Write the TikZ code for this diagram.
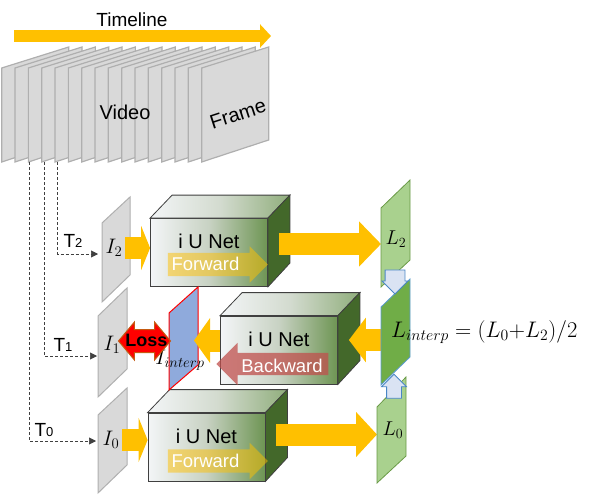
\RequirePackage{fix-cm}
\documentclass[tikz,border=0pt]{standalone}
\usepackage[no-math]{fontspec}
\setsansfont{Liberation Sans}
\usepackage{tikz}
\usetikzlibrary{arrows.meta,shapes.arrows,calc,positioning}
\definecolor{ylw}{RGB}{255,192,0}
\definecolor{framegray}{RGB}{217,217,217}
\definecolor{frameline}{RGB}{175,175,175}
\definecolor{leafgreen}{RGB}{169,209,142}
\definecolor{leafline}{RGB}{106,154,71}
\definecolor{interpgreen}{RGB}{112,173,71}
\definecolor{interpblue}{RGB}{91,155,213}
\definecolor{predblue}{RGB}{143,170,220}
\definecolor{netgreen}{RGB}{84,130,53}
\definecolor{netlight}{RGB}{243,245,247}
\definecolor{netmid}{RGB}{200,210,195}
\definecolor{netline}{RGB}{64,64,64}
\definecolor{bwdred}{RGB}{192,80,77}
\definecolor{lossline}{RGB}{197,90,17}
\definecolor{hopblue}{RGB}{218,227,243}
\definecolor{hopline}{RGB}{74,134,197}

\begin{document}
\begin{tikzpicture}[
        x=1pt, y=-1pt,
        % gray sheets for video frames and inputs
        frame/.style={fill=framegray, draw=frameline, line width=1.2pt},
        plane/.style={fill=framegray, draw=frameline, line width=1pt},
        leaf/.style={fill=leafgreen, draw=leafline, line width=0.8pt},
        netface/.style={rectangle, draw=netline, line width=0.8pt, inner sep=0pt,
            minimum width=117pt, minimum height=68pt,
            left color=netlight, right color=netgreen!85!white, middle color=netmid},
        nettop/.style={draw=netline, line width=0.8pt,
            left color=netlight, right color=netgreen!65!white, middle color=netmid!80!white},
        netside/.style={draw=netline, line width=0.8pt, fill=netgreen!80!black},
        nettext/.style={font=\sffamily\fontsize{20}{24}\selectfont, inner sep=0pt},
        flow/.style={single arrow, single arrow head extend=#1, inner xsep=0pt,
            fill opacity=0.5, draw=none},
        flowtext/.style={font=\sffamily\fontsize{18.5}{22}\selectfont, text=white, inner sep=0pt},
        fatarrow/.style={draw=ylw, line width=22pt, -{Triangle[length=#1,width=44pt]}},
        fatarrow/.default=12pt,
        tline/.style={draw=netline, line width=0.6pt, dash pattern=on 3pt off 2pt,
            -{Triangle[length=7pt,width=7pt]}},
        tlabel/.style={font=\sffamily\fontsize{19}{22}\selectfont, inner sep=0pt},
        mathlabel/.style={font=\fontsize{21}{25}\selectfont, inner sep=0pt},
        hop/.style={single arrow, single arrow head extend=#1, fill=hopblue, draw=hopline,
            line width=0.8pt, inner xsep=0pt, minimum height=24pt}
    ]
        \useasboundingbox (0,0) rectangle (592,495);

        % Timeline and video frames
        \coordinate (tl0) at (14,36);
        \coordinate (tl1) at (271,36);
        \draw[draw=ylw, line width=12pt, -{Triangle[length=11pt,width=23pt]}] (tl0) -- (tl1);
        \node[tlabel] (timeline) at (132,20) {Timeline};
        \foreach \k in {0,...,15}{
            \draw[frame] (1.7+13.33*\k,68) -- ++(0,94) -- ++(67,-22) -- ++(0,-93) -- cycle;
            \coordinate (f\k) at (1.7+13.33*\k,162);
        }
        \node[tlabel, font=\sffamily\fontsize{20}{24}\selectfont] (video) at (125,112) {Video};
        \node[tlabel, font=\sffamily\fontsize{20}{24}\selectfont, rotate=18] (frame) at (238,114) {Frame};

        % Sampled frames
        \coordinate (t2e) at (98,254);
        \coordinate (t1e) at (97,356);
        \coordinate (t0e) at (96,441);
        \draw[tline] ([xshift=2.5pt]f4) |- (t2e);
        \draw[tline] ([xshift=2.5pt]f3) |- (t1e);
        \draw[tline] ([xshift=1pt]f2) |- (t0e);
        \node[tlabel] (t2) at (73,241) {T{\fontsize{13}{13}\selectfont 2}};
        \node[tlabel] (t1) at (63,345) {T{\fontsize{13}{13}\selectfont 1}};
        \node[tlabel] (t0) at (44,430) {T{\fontsize{13}{13}\selectfont 0}};

        \draw[plane] (102,223) -- ++(0,79) -- ++(28,-27) -- ++(0,-78) -- cycle;
        \draw[plane] (98,316) -- ++(0,81) -- ++(29,-28) -- ++(0,-81) -- cycle;
        \draw[plane] (98,415) -- ++(0,78) -- ++(29,-28) -- ++(0,-77) -- cycle;
        \node[mathlabel] (i2) at (114,248) {$I_2$};
        \node[mathlabel] (i1) at (112,345) {$I_1$};
        \node[mathlabel] (i0) at (111,440) {$I_0$};

        % Networks
        \foreach \nm/\px/\py in {netT/209/252.5, netM/279/350, netB/206.5/447}{
            \node[netface] (\nm) at (\px,\py) {};
            \draw[nettop] (\nm.north west) -- ++(22,-23) -- ([shift={(22,-23)}]\nm.north east)
                -- (\nm.north east) -- cycle;
            \draw[netside] (\nm.north east) -- ++(22,-23) -- ++(0,68) -- (\nm.south east) -- cycle;
            \node[nettext] (\nm-text) at ([yshift=11pt]\nm.center) {i U Net};
            \coordinate (\nm-side) at ($(\nm.east)+(11,-11.5)$);
        }
        \node[flow=6.5pt, fill=ylw, inner ysep=11.5pt, minimum height=100pt, minimum width=36pt] (fwdT) at (212,264.5) {};
        \node[flowtext] (fwdT-text) at (205.5,263.5) {Forward};
        \node[flow=6.5pt, fill=ylw, inner ysep=11.5pt, minimum height=100pt, minimum width=36pt] (fwdB) at (212,461) {};
        \node[flowtext] (fwdB-text) at (205.5,461) {Forward};
        \node[flow=10pt, fill=bwdred, fill opacity=0.75, inner ysep=11pt, minimum height=112pt,
            minimum width=42pt, shape border rotate=180] (bwd) at (278,364) {};
        \node[flowtext] (bwd-text) at (282,365.5) {Backward};

        % Interpolated frame
        \draw[fill=predblue, draw=red, line width=1pt] (169,313) -- ++(0,77) -- ++(29,-25) -- ++(0,-78) -- cycle;
        \node[mathlabel] (ii) at (180,360) {$I_{interp}$};

        % Feature flow
        \coordinate (l2w) at (381,244);
        \coordinate (l0w) at (377,434.5);
        \coordinate (liw) at (388,340);
        \coordinate (iie) at (194,340.5);
        \draw[fatarrow=9pt] ([xshift=11pt]i2.center) -- (i2 -| netT.west);
        \draw[fatarrow=9pt] ([xshift=11pt]i0.center) -- (i0 -| netB.west);
        \draw[fatarrow=22pt] (netT-side |- l2w) -- (l2w);
        \draw[fatarrow=21pt] (netB-side |- l0w) -- (l0w);
        \draw[fatarrow=17pt] (liw) -- (netM-side |- liw);
        \draw[fatarrow=16pt] (netM.west |- iie) -- (iie);

        % Latent codes
        \draw[leaf] (381,208) -- ++(0,79) -- ++(29,-27) -- ++(0,-80) -- cycle;
        \draw[fill=interpgreen, draw=interpblue, line width=0.8pt] (381,307) -- ++(0,78) -- ++(29,-28) -- ++(0,-78) -- cycle;
        \draw[leaf] (377,407) -- ++(0,76) -- ++(29,-27) -- ++(0,-79) -- cycle;
        \node[mathlabel, font=\fontsize{20}{24}\selectfont] (l2) at (396,239) {$L_2$};
        \node[mathlabel, font=\fontsize{20}{24}\selectfont] (l0) at (393,430) {$L_0$};
        \node[mathlabel, font=\fontsize{22.5}{27}\selectfont, anchor=west] (li) at (391,332)
            {$L_{interp} = (L_0{+}L_2)/2$};
        \node[hop=3pt, inner ysep=9.5pt, minimum width=25pt, rotate=-90] (down) at (395,277) {};
        \node[hop=5pt, inner ysep=7pt, minimum width=24pt, rotate=90] (up) at (394,390) {};

        % Loss
        \node[double arrow, double arrow head extend=7.5pt, double arrow tip angle=100,
            fill=red, draw=lossline, line width=1pt, inner xsep=0pt, inner ysep=11pt,
            minimum height=52pt, minimum width=37pt] (loss) at (144.5,341) {};
        \node[tlabel, font=\sffamily\bfseries\fontsize{18}{22}\selectfont] (loss-text) at (146.5,340.5) {Loss};
    \end{tikzpicture}
\end{document}
